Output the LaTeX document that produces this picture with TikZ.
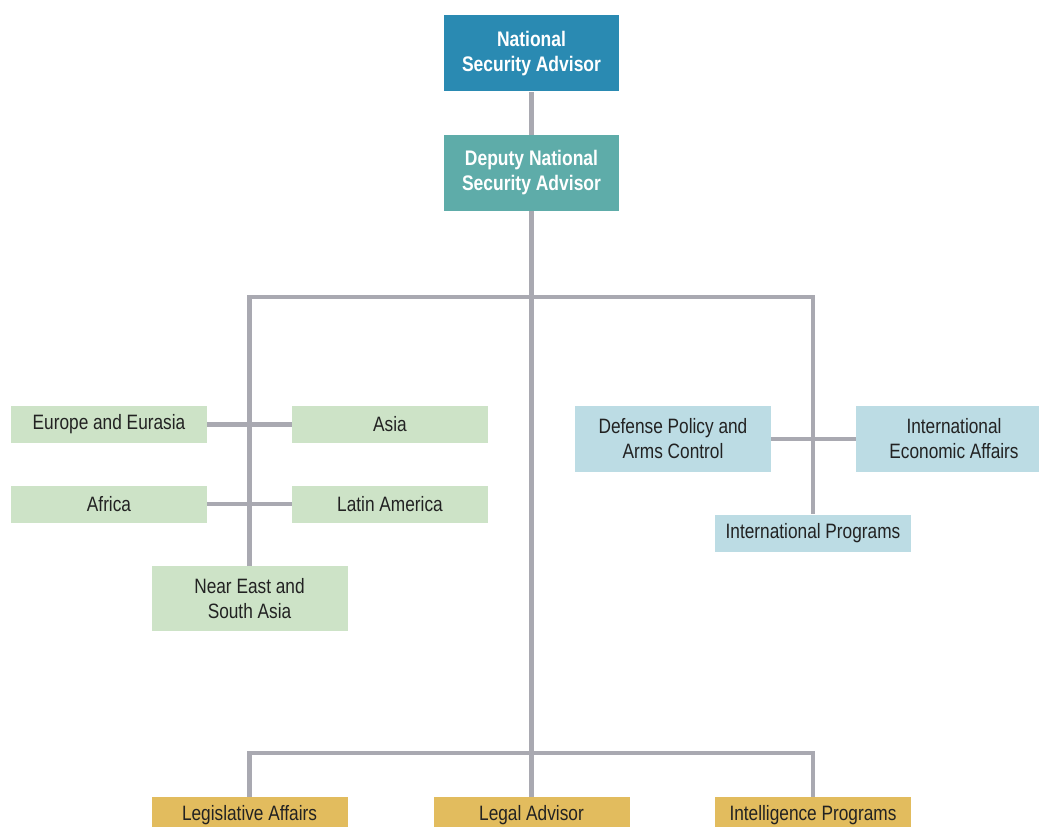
\documentclass[tikz,border=0pt]{standalone}
\usepackage{fontspec}
\setmainfont[FakeStretch=0.83]{Liberation Sans}
\usepackage{tikz}
\usetikzlibrary{positioning}
\definecolor{nsc-navy}{HTML}{2A8AB2}
\definecolor{nsc-teal}{HTML}{5EACA9}
\definecolor{nsc-green}{HTML}{CDE3C7}
\definecolor{nsc-blue}{HTML}{BCDCE4}
\definecolor{nsc-gold}{HTML}{E2BC5E}
\definecolor{nsc-line}{HTML}{A9A9B1}
\definecolor{nsc-text}{HTML}{222222}

\begin{document}
\begin{tikzpicture}[x=0.75pt, y=-0.75pt,
    unit/.style={minimum width=147pt, minimum height=27.75pt, inner sep=0pt,
                 align=center, font=\fontsize{15.6}{18.7}\selectfont, text=nsc-text},
    link/.style={draw=nsc-line, line width=3.7pt}]

    % page
    \useasboundingbox (0,0) rectangle (1039,827);

    % head
    \begin{scope}[every node/.style={unit, minimum width=131.25pt, minimum height=57pt,
                                     text=white, font=\bfseries\fontsize{15.8}{18.7}\selectfont}]
        \node[fill=nsc-navy] (nsa) at (531.5,53.5) {National\\Security Advisor};
        \node[fill=nsc-teal] (dnsa) at (531.5,173) {Deputy National\\Security Advisor};
    \end{scope}

    % regional offices
    \begin{scope}[every node/.style={unit, fill=nsc-green}]
        \node (eur) at (109,424.5) {Europe and Eurasia};
        \node (asia) at (390,424.5) {Asia};
        \node (afr) at (109,504) {Africa};
        \node (lat) at (390,504) {Latin America};
        \node[minimum height=48.75pt] (near) at (249.5,598.5) {Near East and\\South Asia};
    \end{scope}

    % functional offices
    \begin{scope}[every node/.style={unit, fill=nsc-blue}]
        \node[minimum height=49.5pt] (def) at (673,439) {Defense Policy and\\Arms Control};
        \node[minimum height=49.5pt] (econ) at (954,439) {International\\Economic Affairs};
        \node (prog) at (813,533) {International Programs};
    \end{scope}

    % staff offices
    \begin{scope}[every node/.style={unit, fill=nsc-gold}]
        \node (legis) at (249.5,815.5) {Legislative Affairs};
        \node (legal) at (531.5,815.5) {Legal Advisor};
        \node (intel) at (813,815.5) {Intelligence Programs};
    \end{scope}

    % junctions
    \coordinate (top) at (531.5,297);
    \coordinate (bot) at (531.5,753);

    % lines
    \path[link] (nsa) -- (dnsa);
    \path[link] (dnsa) -- (legal);
    \path[link] (near.north) |- (top) -| (prog.north);
    \path[link] (legis.north) |- (bot) -| (intel.north);
    \path[link] (eur) -- (asia);
    \path[link] (afr) -- (lat);
    \path[link] (def) -- (econ);

\end{tikzpicture}
\end{document}
